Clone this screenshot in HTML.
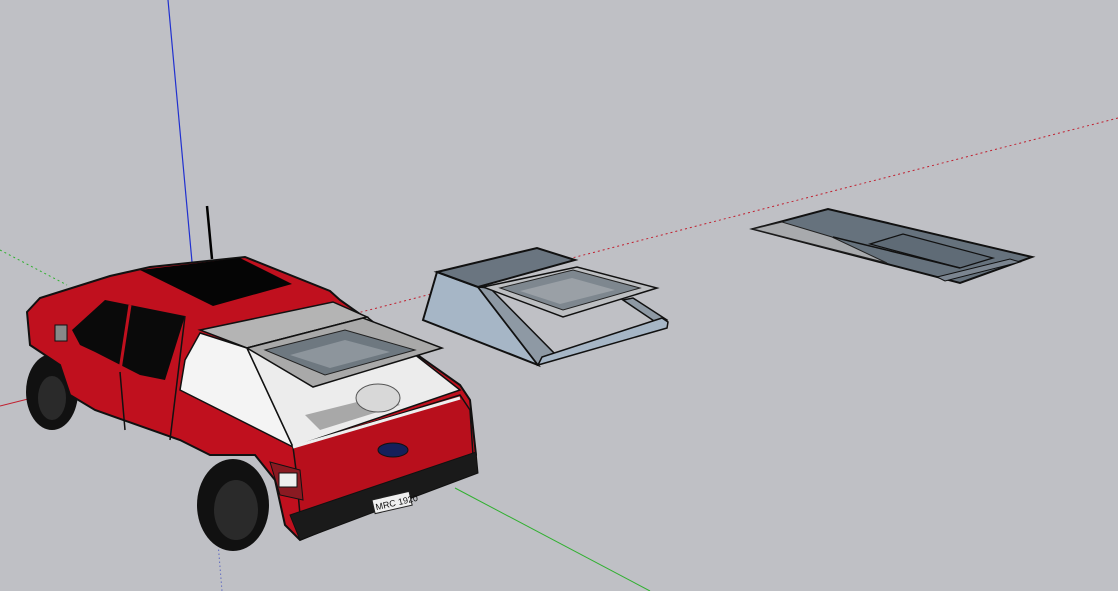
<!DOCTYPE html>
<html><head><meta charset="utf-8"><style>
html,body{margin:0;padding:0;background:#bfc0c5;width:1118px;height:591px;overflow:hidden}
svg{display:block}
</style></head><body>
<svg width="1118" height="591" viewBox="0 0 1118 591" xmlns="http://www.w3.org/2000/svg">
<rect width="1118" height="591" fill="#bfc0c5"/>
<line x1="168" y1="0" x2="192" y2="262" stroke="#2030d0" stroke-width="1.2"/>
<line x1="1118" y1="118" x2="330" y2="320" stroke="#c02030" stroke-width="1" stroke-dasharray="2,3"/>
<line x1="0" y1="406" x2="32" y2="398" stroke="#c02030" stroke-width="1"/>
<line x1="0" y1="250" x2="67" y2="285" stroke="#30b030" stroke-width="1" stroke-dasharray="2,3"/>
<line x1="455" y1="488" x2="650" y2="591" stroke="#30b030" stroke-width="1"/>
<line x1="212" y1="470" x2="222" y2="591" stroke="#3040c0" stroke-width="1" stroke-dasharray="1,3"/>
<line x1="207" y1="206" x2="212" y2="259" stroke="#000" stroke-width="2.5"/>

<!-- shell 2 -->
<polygon points="753,229 828,209 1032,257 960,283" fill="#66727d" stroke="#111" stroke-width="2"/>
<polygon points="753,229 782,222 832,237 887,263" fill="#a8aaad" stroke="#222" stroke-width="1"/>
<polygon points="870,244 903,234 993,258 960,268" fill="#5f6b76" stroke="#111" stroke-width="1.2"/>
<line x1="833" y1="237" x2="960" y2="268" stroke="#111" stroke-width="1.5"/>
<polygon points="937,277 1010,259 1020,262 945,281" fill="#7b8590" stroke="#111" stroke-width="1"/>

<!-- shell 1 -->
<polygon points="437,272 478,287 538,365 423,320" fill="#a6b6c6" stroke="#111" stroke-width="2"/>
<polygon points="437,272 537,248 575,260 478,287" fill="#6a7580" stroke="#111" stroke-width="2"/>
<polygon points="478,287 490,288 558,357 538,365" fill="#8e99a4" stroke="#111" stroke-width="1.5"/>
<polygon points="623,300 633,298 667,320 660,325" fill="#8e99a4" stroke="#111" stroke-width="1.5"/>
<polygon points="538,365 542,357 662,318 668,322 667,328" fill="#a6b6c6" stroke="#111" stroke-width="1.5"/>
<polygon points="483,287 577,267 657,288 563,317" fill="#bdbfc2" stroke="#111" stroke-width="1.5"/>
<polygon points="500,288 573,270 640,288 563,310" fill="#7e878f" stroke="#222" stroke-width="1"/>
<polygon points="520,291 572,278 615,290 560,304" fill="#9aa0a6"/>

<!-- truck -->
<ellipse cx="52" cy="392" rx="26" ry="38" fill="#111"/>
<ellipse cx="233" cy="505" rx="36" ry="46" fill="#111"/>
<ellipse cx="236" cy="510" rx="22" ry="30" fill="#2a2a2a"/>
<ellipse cx="52" cy="398" rx="14" ry="22" fill="#2a2a2a"/>
<polygon points="27,312 40,298 110,276 150,267 245,257 330,291 340,300 460,385 470,400 476,455 470,470 300,540 285,525 275,480 255,455 210,455 180,440 95,410 70,395 60,365 30,345" fill="#c0101e" stroke="#111" stroke-width="2"/>
<polygon points="140,270 240,258 292,284 213,306" fill="#050505"/>
<polygon points="72,330 105,300 185,316 165,380 140,375 95,352 80,345" fill="#0a0a0a"/>
<line x1="130" y1="305" x2="120" y2="370" stroke="#c0101e" stroke-width="3"/>
<line x1="185" y1="316" x2="170" y2="440" stroke="#111" stroke-width="1.5"/>
<line x1="120" y1="372" x2="125" y2="430" stroke="#111" stroke-width="1.5"/>
<rect x="55" y="325" width="12" height="16" fill="#888" stroke="#111"/>
<polygon points="200,333 247,348 293,447 180,390 185,360" fill="#f4f4f4" stroke="#111" stroke-width="1.5"/>
<polygon points="200,330 333,302 367,317 247,348" fill="#b4b4b4" stroke="#111" stroke-width="1.5"/>
<polygon points="247,348 367,317 460,390 293,447" fill="#ececec" stroke="#111" stroke-width="1.5"/>
<polygon points="305,415 385,395 400,405 320,430" fill="#a8a8a8"/>
<ellipse cx="378" cy="398" rx="22" ry="14" fill="#d8d8d8" stroke="#555"/>
<polygon points="247,348 363,318 442,348 313,387" fill="#a9a9a9" stroke="#111" stroke-width="1.5"/>
<polygon points="265,350 345,330 415,350 325,375" fill="#6e7880" stroke="#222"/>
<polygon points="290,355 345,340 390,352 330,368" fill="#8d959c"/>
<polygon points="293,447 460,395 470,410 473,455 300,515 296,470" fill="#b80f1c" stroke="#111" stroke-width="1.5"/>
<line x1="293" y1="447" x2="460" y2="398" stroke="#eee" stroke-width="3"/>
<ellipse cx="393" cy="450" rx="15" ry="7" fill="#15205a" stroke="#111"/>
<polygon points="270,462 300,470 303,500 280,495" fill="#8a1a22" stroke="#111"/>
<rect x="279" y="473" width="18" height="14" fill="#eee" stroke="#111"/>
<polygon points="290,515 476,452 478,473 300,540" fill="#1a1a1a" stroke="#111"/>
<g transform="translate(372,500) rotate(-13)"><rect x="0" y="0" width="38" height="14" fill="#f0f0f0" stroke="#222"/>
<text x="2" y="11" font-family="Liberation Sans, sans-serif" font-size="9" fill="#111">MRC 1920</text></g>
</svg>
</body></html>
